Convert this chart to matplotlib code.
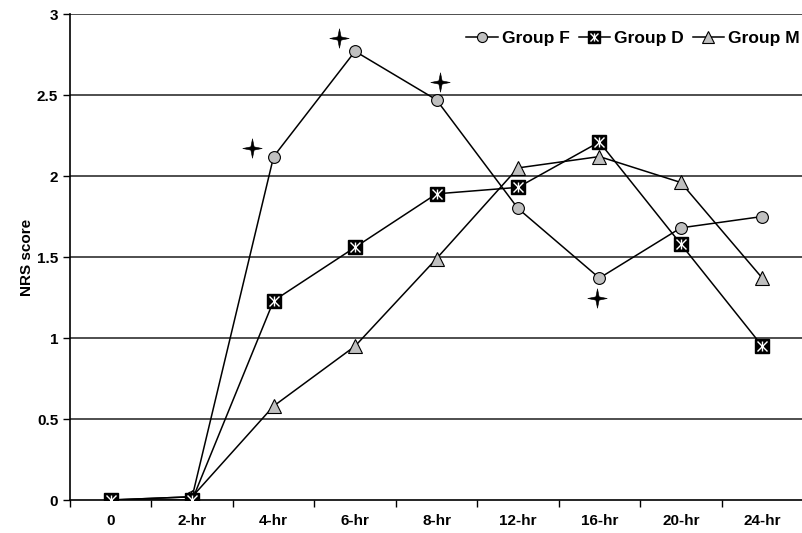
import matplotlib
matplotlib.use("Agg")
import numpy as np
import matplotlib.pyplot as plt
from matplotlib.path import Path
from matplotlib.legend_handler import HandlerTuple

plt.rcParams["font.family"] = ["Liberation Sans", "DejaVu Sans"]
plt.rcParams["font.weight"] = "bold"

times = ["0", "2-hr", "4-hr", "6-hr", "8-hr", "12-hr", "16-hr", "20-hr", "24-hr"]
group_f = [0, 0.02, 2.12, 2.77, 2.47, 1.80, 1.37, 1.68, 1.75]
group_d = [0, 0, 1.23, 1.56, 1.89, 1.93, 2.21, 1.58, 0.95]
group_m = [0, 0.02, 0.58, 0.95, 1.49, 2.05, 2.12, 1.96, 1.37]

# significance marks (position index, height)
sig_idx = [1.74, 2.8, 4.04, 5.97]
sig_y = [2.17, 2.85, 2.58, 1.25]

x = list(range(len(times)))

# four-pointed star marker
ang = np.arange(8) * np.pi / 4 + np.pi / 2
rad = np.where(np.arange(8) % 2 == 0, 1.0, 0.24)
star = Path(np.column_stack([rad * np.cos(ang), rad * np.sin(ang)]).tolist()
            + [[0, 1]], closed=True)

fig = plt.figure(figsize=(8.03, 5.33), dpi=100)
ax = fig.add_axes([0.0872, 0.0619, 0.9128, 0.9118])

for yv in [0.5, 1, 1.5, 2, 2.5, 3]:
    ax.axhline(yv, color="#404040", lw=1.3, zorder=0)

lf, = ax.plot(x, group_f, "-o", color="black", lw=1.1, mfc="#c0c0c0",
              mec="black", mew=0.8, ms=8.5, zorder=3)
ld, = ax.plot(x, group_d, "-s", color="black", lw=1.1, mfc="black",
              mec="black", ms=10, zorder=4)
ldx, = ax.plot(x, group_d, "x", color="white", mew=1.0, ms=6.5, zorder=5)
ldv, = ax.plot(x, group_d, "|", color="white", mew=1.0, ms=7, zorder=5)
lm, = ax.plot(x, group_m, "-^", color="black", lw=1.1, mfc="#c0c0c0",
              mec="black", mew=0.8, ms=10, zorder=3)

ax.plot(sig_idx, sig_y, ls="none", marker=star, color="black",
        ms=14, mew=0.4, zorder=6)

ax.set_xlim(-0.5, 8.46)
ax.set_ylim(0, 3)
ax.set_yticks([0, 0.5, 1, 1.5, 2, 2.5, 3])
ax.set_yticklabels(["0", "0.5", "1", "1.5", "2", "2.5", "3"], fontsize=11,
                   fontweight="bold")
ax.set_xticks([i + 0.5 for i in range(-1, len(times))])
ax.set_xticklabels([])
ax.set_xticks(x, minor=True)
ax.set_xticklabels(times, minor=True, fontsize=11, fontweight="bold")
ax.tick_params(axis="x", which="minor", length=0, pad=10)
ax.tick_params(axis="x", which="major", length=5, width=1)
ax.tick_params(axis="y", length=5, width=1)
ax.set_ylabel("NRS score", fontsize=11, fontweight="bold", labelpad=2)

for s in ["top", "right"]:
    ax.spines[s].set_visible(False)
ax.spines["left"].set_linewidth(1.2)
ax.spines["bottom"].set_linewidth(1.2)

ax.legend([lf, (ld, ldx, ldv), lm], ["Group F", "Group D", "Group M"],
          handler_map={tuple: HandlerTuple(ndivide=1, pad=0)},
          loc="upper right", bbox_to_anchor=(1.017, 0.997), ncol=3,
          frameon=False, prop={"weight": "bold", "size": 12.5},
          handlelength=1.8, handletextpad=0.25, columnspacing=0.5,
          markerscale=0.85)

fig.savefig("out.png", dpi=100)
